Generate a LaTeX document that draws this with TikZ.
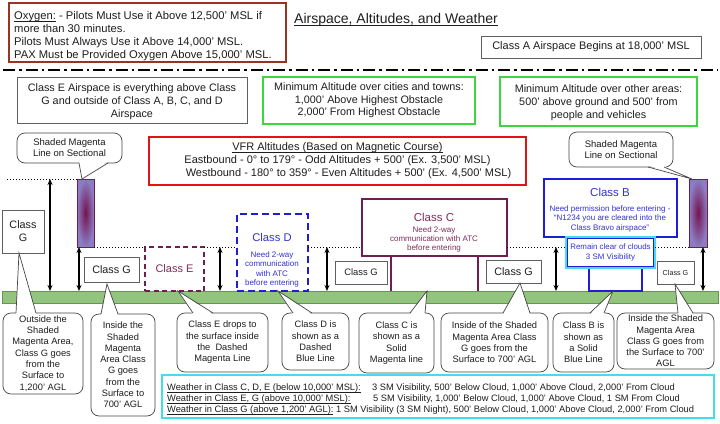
\documentclass[tikz,border=0pt]{standalone}
\usepackage{fontspec}
\setmainfont{Liberation Sans}
\usetikzlibrary{arrows.meta,calc}
\definecolor{oxred}{RGB}{153,51,34}
\definecolor{boxgray}{RGB}{95,95,95}
\definecolor{callgray}{RGB}{70,70,70}
\definecolor{mygreen}{RGB}{60,215,60}
\definecolor{vfrred}{RGB}{225,20,20}
\definecolor{maroon}{RGB}{110,30,80}
\definecolor{maroontext}{RGB}{125,45,90}
\definecolor{dblue}{RGB}{30,30,210}
\definecolor{btext}{RGB}{50,50,210}
\definecolor{cyanb}{RGB}{70,220,240}
\definecolor{groundfill}{RGB}{147,196,125}
\definecolor{groundline}{RGB}{100,150,80}
\definecolor{magdark}{RGB}{115,20,80}
\definecolor{maglight}{RGB}{140,125,195}
\definecolor{txt}{RGB}{30,30,30}
\newcommand\myul[1]{{\setbox0\hbox{#1}\dp0=0pt \underline{\box0}}}
\tikzset{
  base/.style={inner sep=0pt, outer sep=0pt, anchor=north west, align=center, fill=white, text=txt},
  graybox/.style={base, draw=boxgray, line width=0.8pt},
  greenbox/.style={base, draw=mygreen, line width=1.8pt},
  call/.style={base, draw=callgray, line width=0.7pt, rounded corners=8pt, font=\fontsize{9.3}{11.3}\selectfont},
  callline/.style={draw=callgray, line width=0.7pt, line join=miter},
  dimarrow/.style={{Stealth[length=6pt,width=5pt]}-{Stealth[length=6pt,width=5pt]}, line width=1.4pt},
  dotline/.style={line width=0.8pt, dash pattern=on 0.8pt off 2.2pt},
  magbar/.style={inner sep=0pt, outer sep=0pt, anchor=north west, draw=maroon, line width=0.8pt, inner color=magdark, outer color=maglight},
  plain/.style={inner sep=0pt, align=center},
  oxline/.style={inner sep=0pt, anchor=base west, text=txt, font=\fontsize{11.2}{13}\selectfont},
  wxline/.style={inner sep=0pt, anchor=base west, text=txt, font=\fontsize{9.3}{11}\selectfont},
}
\newcommand\ptrtop[4]{%
  \fill[white] ($(#2,0 |- #1.north)+(0,1.5)$) -- (#4) -- ($(#3,0 |- #1.north)+(0,1.5)$) -- cycle;
  \draw[callline] (#2,0 |- #1.north) -- (#4) -- (#3,0 |- #1.north);}
\newcommand\ptrbot[4]{%
  \fill[white] ($(#2,0 |- #1.south)+(0,-1.5)$) -- (#4) -- ($(#3,0 |- #1.south)+(0,-1.5)$) -- cycle;
  \draw[callline] (#2,0 |- #1.south) -- (#4) -- (#3,0 |- #1.south);}
\begin{document}
\begin{tikzpicture}[x=1pt,y=-1pt]
\useasboundingbox[fill=white] (0,0) rectangle (720,423);

% ---- top area
\node[base, draw=oxred, line width=1.5pt, minimum width=277pt, minimum height=59pt] (oxy) at (9,3) {};
\node[oxline] (ox1) at (14,19.5) {\myul{Oxygen:} - Pilots Must Use it Above 12,500' MSL if};
\node[oxline] (ox2) at (14,32.5) {more than 30 minutes.};
\node[oxline] (ox3) at (14,45.5) {Pilots Must Always Use it Above 14,000' MSL.};
\node[oxline] (ox4) at (14,58.5) {PAX Must be Provided Oxygen Above 15,000' MSL.};
\node[inner sep=0pt, anchor=base, text=txt, font=\fontsize{14}{16}\selectfont] (title) at (396,23.5) {\myul{Airspace, Altitudes, and Weather}};
\node[graybox, minimum width=220pt, minimum height=22pt, font=\fontsize{11}{13}\selectfont] (clA) at (481,36) {Class A Airspace Begins at 18,000' MSL};

\coordinate (ddl) at (3,70);
\coordinate (ddr) at (717,70);
\draw[line width=2.3pt, dash pattern=on 12pt off 4pt on 2.5pt off 4pt] (ddl) -- (ddr);

\node[graybox, minimum width=230pt, minimum height=46pt, font=\fontsize{10.8}{13.2}\selectfont] (clEdesc) at (17,77)
 {\rule{0pt}{11pt}Class E Airspace is everything above Class\\G and outside of Class A, B, C, and D\\Airspace};
\node[greenbox, minimum width=212pt, minimum height=47pt, font=\fontsize{10.8}{12.3}\selectfont] (mincity) at (263,77)
 {Minimum Altitude over cities and towns:\\1,000' Above Highest Obstacle\\2,000' From Highest Obstacle};
\node[greenbox, minimum width=197pt, minimum height=49pt, font=\fontsize{10.8}{13.3}\selectfont] (minother) at (500,77)
 {\rule{0pt}{10pt}Minimum Altitude over other areas:\\500' above ground and 500' from\\people and vehicles};

\node[base, draw=vfrred, line width=2pt, minimum width=377pt, minimum height=48pt, font=\fontsize{11}{13}\selectfont] (vfr) at (149,137)
 {\myul{VFR Altitudes (Based on Magnetic Course)}\\Eastbound - 0° to 179° - Odd Altitudes + 500' (Ex. 3,500' MSL)\\\hspace*{22pt}Westbound - 180° to 359° - Even Altitudes + 500' (Ex. 4,500' MSL)};

% ---- ground
\node[base, draw=groundline, fill=groundfill, line width=0.8pt, minimum width=716pt, minimum height=12pt] (ground) at (2,291) {};

% ---- magenta bars and top callouts
\node[magbar, minimum width=17pt, minimum height=68pt] (barL) at (77,179) {};
\node[magbar, minimum width=18pt, minimum height=68pt] (barR) at (689,179) {};
\node[call, minimum width=105pt, minimum height=30pt, font=\fontsize{9.5}{11}\selectfont] (tl) at (17,133) {Shaded Magenta\\Line on Sectional};
\coordinate (tlTip) at (82,179);
\ptrbot{tl}{79}{108}{tlTip}
\node[call, minimum width=104pt, minimum height=35pt, font=\fontsize{9.5}{11}\selectfont] (tr) at (569,132) {Shaded Magenta\\Line on Sectional};
\coordinate (trTip) at (692,179);
\ptrbot{tr}{648}{664}{trTip}

% ---- airspace boxes
\node[graybox, minimum width=42pt, minimum height=43pt, font=\fontsize{10.8}{13}\selectfont] (gTall) at (2,210) {Class\\G};
\node[graybox, minimum width=55pt, minimum height=25pt, font=\fontsize{10.8}{13}\selectfont] (g2) at (84,257) {Class G};
\node[base, fill=none, draw=maroon, line width=1.5pt, dash pattern=on 5pt off 3.5pt, minimum width=59pt, minimum height=44pt, text=maroontext, font=\fontsize{11}{13}\selectfont] (clE) at (145,247) {Class E};

\node[base, fill=none, draw=dblue, line width=2pt, dash pattern=on 7pt off 4pt, minimum width=71pt, minimum height=77pt] (clD) at (237,214) {};
\node[plain, text=btext, font=\fontsize{11.2}{13}\selectfont] (clDt) at (272,237) {Class D};
\node[plain, text=btext, font=\fontsize{8}{9.3}\selectfont] (clDs) at (272,269.5) {Need 2-way\\communication\\with ATC\\before entering};

\node[graybox, minimum width=52pt, minimum height=23pt, font=\fontsize{9.4}{11}\selectfont] (g3) at (335,261) {Class G};

\node[base, draw=maroon, line width=1.5pt, minimum width=145pt, minimum height=57pt] (clC) at (362,199) {};
\node[plain, text=maroontext, font=\fontsize{11.5}{13}\selectfont] (clCt) at (434,217) {Class C};
\node[plain, text=maroontext, font=\fontsize{8}{9.4}\selectfont] (clCs) at (434,239.5) {Need 2-way\\communication with ATC\\before entering};
\coordinate (cL) at (391,256);
\coordinate (cR) at (478,256);
\draw[maroon, line width=1.5pt] (cL) -- (cL |- ground.north) (cR) -- (cR |- ground.north);

\node[graybox, minimum width=55pt, minimum height=23pt, font=\fontsize{10.8}{13}\selectfont] (g4) at (486,260) {Class G};

\node[base, draw=dblue, line width=1.6pt, minimum width=133pt, minimum height=58pt] (clB) at (544,179) {};
\node[plain, text=btext, font=\fontsize{11.5}{13}\selectfont] (clBt) at (610,192) {Class B};
\node[plain, text=btext, font=\fontsize{8}{9.5}\selectfont] (clBs) at (610,218.5) {Need permission before entering -\\“N1234 you are cleared into the\\Class Bravo airspace”};
\coordinate (bS1) at (589,268);
\coordinate (bS2) at (642,291);
\draw[dblue, line width=1.5pt] (bS1) rectangle (bS2);
\node[base, draw=cyanb, line width=2.6pt, minimum width=89pt, minimum height=31pt, text=btext, font=\fontsize{7.9}{9.5}\selectfont] (cy) at (566,237) {Remain clear of clouds\\3 SM Visibility};
\draw[dblue, line width=0.6pt] ([shift={(1.6pt,-1.6pt)}]cy.north west) rectangle ([shift={(-1.6pt,1.6pt)}]cy.south east);

\node[graybox, minimum width=37pt, minimum height=23pt, font=\fontsize{7.2}{9}\selectfont] (g5) at (657,261) {Class G};

% ---- dotted guide lines
\coordinate (d1s) at (7,179);
\draw[dotline] (d1s) -- (barL.north west);
\draw[dotline] (barL.south east) -- (clE.north west);
\draw[dotline] (clE.north east) -- (clE.north east -| clD.west);
\draw[dotline] (clE.north -| clD.east) -- (clE.north -| clC.west);
\draw[dotline] (clE.north -| clC.east) -- (clE.north -| cy.west);
\draw[dotline] (clE.north -| cy.east) -- (barR.south west);

% ---- dimension arrows
\coordinate (a1) at (50,179);
\coordinate (a2) at (79,247);
\coordinate (a3) at (220,247);
\coordinate (a4) at (327,247);
\coordinate (a5) at (556,247);
\coordinate (a6) at (703,247);
\foreach \a in {a1,a2,a3,a4,a5,a6}{\draw[dimarrow] (\a) -- (\a |- ground.north);}

% ---- bottom callouts
\node[call, minimum width=80pt, minimum height=81pt] (c1) at (3,313) {Outside the\\Shaded\\Magenta Area,\\Class G goes\\from the\\Surface to\\1,200' AGL};
\coordinate (c1t) at (19,253);
\ptrtop{c1}{16}{36}{c1t}
\node[call, minimum width=64pt, minimum height=102pt] (c2) at (91,314) {Inside the\\Shaded\\Magenta\\Area Class\\G goes\\from the\\Surface to\\700' AGL};
\coordinate (c2t) at (107,284);
\ptrtop{c2}{101}{118}{c2t}
\node[call, minimum width=91pt, minimum height=59pt] (c3) at (177,313) {Class E drops to\\the surface inside\\the \ Dashed\\Magenta Line};
\coordinate (c3t) at (178,291);
\ptrtop{c3}{193}{213}{c3t}
\node[call, minimum width=67pt, minimum height=57pt] (c4) at (282,313) {Class D is\\shown as a\\Dashed\\Blue Line};
\coordinate (c4t) at (278,291);
\ptrtop{c4}{293}{312}{c4t}
\node[call, minimum width=75pt, minimum height=60pt] (c5) at (359,313) {Class C is\\shown as a\\Solid\\Magenta line};
\coordinate (c5t) at (427,291);
\ptrtop{c5}{410}{425}{c5t}
\node[call, minimum width=107pt, minimum height=59pt] (c6) at (441,313) {Inside of the Shaded\\Magenta Area Class\\G goes from the\\Surface to 700' AGL};
\coordinate (c6t) at (520,283);
\ptrtop{c6}{503}{530}{c6t}
\node[call, minimum width=61pt, minimum height=59pt] (c7) at (553,313) {Class B is\\shown as\\a Solid\\Blue Line};
\coordinate (c7t) at (613,291);
\ptrtop{c7}{590}{604}{c7t}
\node[call, minimum width=97pt, minimum height=56pt] (c8) at (617,313) {Inside the Shaded\\Magenta Area\\Class G goes from\\the Surface to 700'\\AGL};
\coordinate (c8t) at (675,284);
\ptrtop{c8}{678}{693}{c8t}

% ---- weather
\node[base, draw=cyanb, line width=2.6pt, minimum width=552pt, minimum height=43pt] (wx) at (162,375) {};
\node[wxline] (wx1) at (167,390.5) {\myul{Weather in Class C, D, E (below 10,000' MSL):}};
\node[wxline] (wx1v) at (372,390.5) {3 SM Visibility, 500' Below Cloud, 1,000' Above Cloud, 2,000' From Cloud};
\node[wxline] (wx2) at (167,401.5) {\myul{Weather in Class E, G (above 10,000' MSL):}};
\node[wxline] (wx2v) at (373,401.5) {5 SM Visibility, 1,000' Below Cloud, 1,000' Above Cloud, 1 SM From Cloud};
\node[wxline] (wx3) at (167,412.5) {\myul{Weather in Class G (above 1,200' AGL):} 1 SM Visibility (3 SM Night), 500' Below Cloud, 1,000' Above Cloud, 2,000' From Cloud};
\end{tikzpicture}
\end{document}
